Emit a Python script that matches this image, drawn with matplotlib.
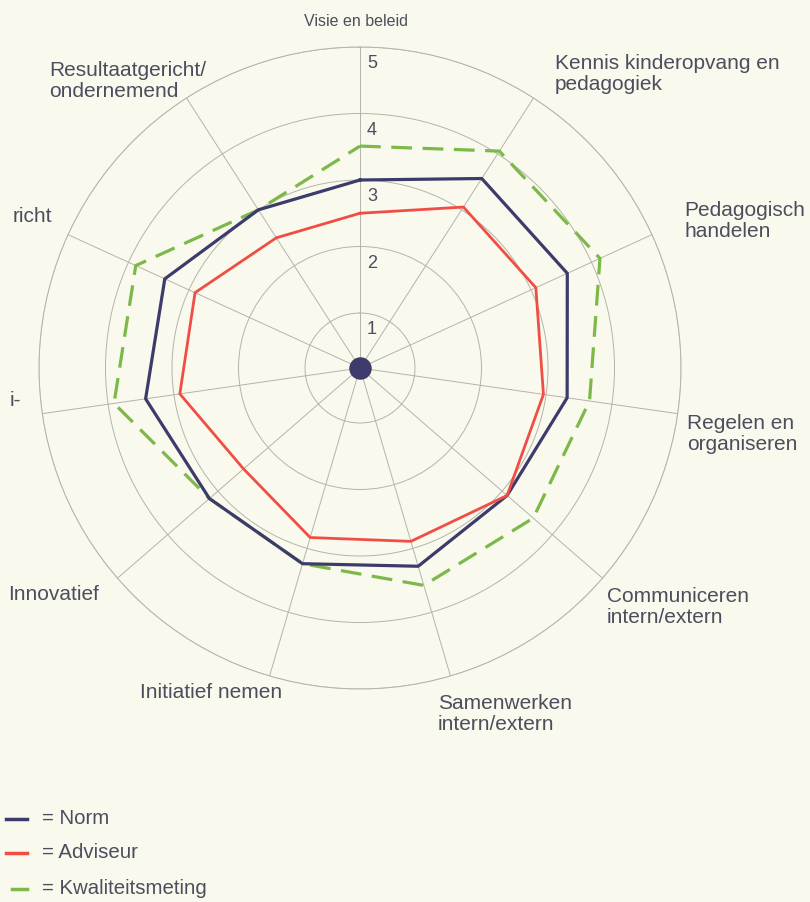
import numpy as np
import matplotlib.pyplot as plt
from matplotlib.lines import Line2D

# competentieprofiel: scores per competentie (schaal 1-5)
categories = ["Visie en beleid", "Kennis kinderopvang en\npedagogiek", "Pedagogisch\nhandelen",
              "Regelen en\norganiseren", "Communiceren\nintern/extern", "Samenwerken\nintern/extern",
              "Initiatief nemen", "Innovatief", "i-", "richt", "Resultaatgericht/\nondernemend"]
norm = [3.0, 3.56, 3.6, 3.32, 3.1, 3.28, 3.24, 3.17, 3.43, 3.4, 3.0]
adviseur = [2.5, 3.05, 3.08, 2.96, 3.1, 2.89, 2.83, 2.49, 2.91, 2.9, 2.5]
kwaliteit = [3.51, 4.05, 4.14, 3.66, 3.62, 3.58, 3.24, 3.17, 3.91, 3.88, 3.0]
ring_values = [1, 2, 3, 4, 5]
series_names = ["Norm", "Adviseur", "Kwaliteitsmeting"]

W, H = 810, 902
BG = "#f9f9ee"
TXT = "#4d4d5e"
GRID = "#b4b4ae"
NAVY = "#3c3b6b"
RED = "#f04e45"
GREEN = "#7cb948"

plt.rcParams["font.family"] = ["Liberation Sans", "DejaVu Sans"]

fig = plt.figure(figsize=(W / 100, H / 100), dpi=100, facecolor=BG)
# polar area: midden op (360, 368) px, straal 321 px
ax = fig.add_axes([39 / W, 1 - 689 / H, 642 / W, 642 / H], projection="polar")
ax.set_facecolor("none")
ax.set_theta_zero_location("N")
ax.set_theta_direction(-1)
ax.set_ylim(0.173, 5)

n = len(categories)
theta = np.arange(n) * 2 * np.pi / n

ax.set_xticks(theta)
ax.set_xticklabels([])
ax.set_yticks(ring_values)
ax.set_yticklabels([])
ax.grid(True, color=GRID, lw=0.7)
ax.spines["polar"].set_color(GRID)
ax.spines["polar"].set_linewidth(0.7)


def closed(vals):
    return np.append(theta, theta[0]), np.append(vals, vals[0])


t, v = closed(kwaliteit)
ax.plot(t, v, color=GREEN, lw=2.3, dashes=(6.5, 3.3), zorder=3)
t, v = closed(norm)
ax.plot(t, v, color=NAVY, lw=2.3, zorder=4)
t, v = closed(adviseur)
ax.plot(t, v, color=RED, lw=2.0, zorder=5)

ax.scatter([0], [0.173], s=230, color=NAVY, zorder=6, clip_on=False)

# schaalgetallen langs de bovenste as
for r in ring_values:
    ax.annotate(str(r), (0, r - 0.25), xytext=(5, 0), textcoords="offset points",
                ha="left", va="center", fontsize=13, color=TXT)


def fx(x):
    return x / W


def fy(y):
    return 1 - y / H


# labels rond de spinnenweb-grafiek (linkerkant valt buiten beeld)
label_pos = [(356, 22), (555, 74), (684, 221), (687, 434), (607, 607),
             (438, 714), (140, 693), (8, 595), (10, 400), (13, 217), (49, 81)]
for i, (lab, (x, y)) in enumerate(zip(categories, label_pos)):
    if i == 0:
        fig.text(fx(x), fy(y), lab, ha="center", va="center", fontsize=11.5, color=TXT)
    else:
        fig.text(fx(x), fy(y), lab, ha="left", va="center", fontsize=15,
                 color=TXT, linespacing=1.17)

# legenda
leg_colors = [NAVY, RED, GREEN]
leg_y = [819, 853, 889]
for name, c, y in zip(series_names, leg_colors, leg_y):
    x0 = 6 if c != GREEN else 12
    fig.add_artist(Line2D([fx(x0), fx(27)], [fy(y), fy(y)], color=c, lw=2.5,
                          transform=fig.transFigure))
    fig.text(fx(42), fy(y), "= " + name, ha="left", va="center", fontsize=14.7, color=TXT)

fig.savefig("out.png", dpi=100, facecolor=BG)
